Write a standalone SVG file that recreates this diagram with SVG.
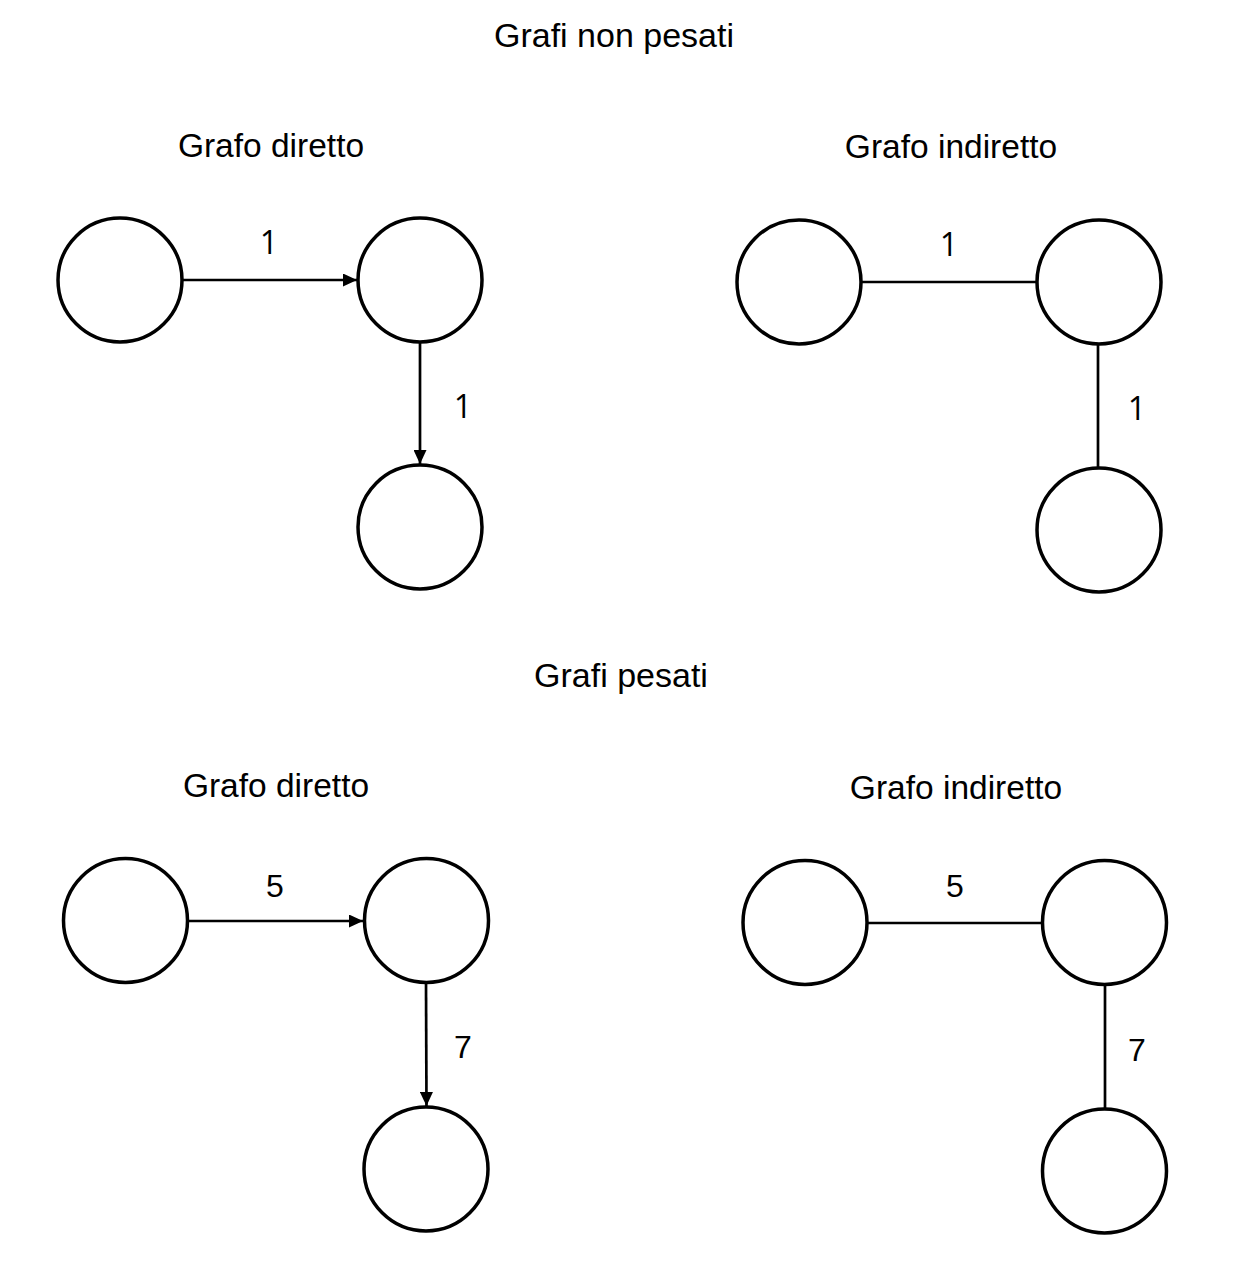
<svg xmlns="http://www.w3.org/2000/svg" width="1244" height="1274" viewBox="0 0 1244 1274">
<style>
.node{fill:#fff;stroke:#000;stroke-width:3.5}
.edge{stroke:#000;stroke-width:2.7;fill:none}
.title{font-family:"Liberation Sans",Arial,sans-serif;font-size:34px;fill:#000;text-anchor:middle}
.sub{font-family:"Liberation Sans",Arial,sans-serif;font-size:33.5px;fill:#000;text-anchor:middle}
.w1{font-family:"Open Sans","Noto Sans",sans-serif;font-size:32px;fill:#000;text-anchor:middle}
.w2{font-family:"Liberation Sans",Arial,sans-serif;font-size:32px;fill:#000;text-anchor:middle}
</style>
<defs>
<marker id="arr" viewBox="0 0 14 13" refX="14" refY="6.5" markerWidth="14" markerHeight="13" markerUnits="userSpaceOnUse" orient="auto">
<path d="M0,0 L14,6.5 L0,13 Z" fill="#000"/>
</marker>
</defs>
<rect width="1244" height="1274" fill="#fff"/>
<g id="titles">
<text class="title" x="614" y="47">Grafi non pesati</text>
<text class="sub" x="271" y="157">Grafo diretto</text>
<text class="sub" x="951" y="158">Grafo indiretto</text>
<text class="title" x="621" y="687">Grafi pesati</text>
<text class="sub" x="276" y="797">Grafo diretto</text>
<text class="sub" x="956" y="799">Grafo indiretto</text>
</g>
<g id="connectors">
<line class="edge" x1="182" y1="280" x2="357" y2="280" marker-end="url(#arr)"/>
<line class="edge" x1="420" y1="342" x2="420" y2="464" marker-end="url(#arr)"/>
<line class="edge" x1="861" y1="282" x2="1037" y2="282"/>
<line class="edge" x1="1098" y1="344" x2="1098" y2="468"/>
<line class="edge" x1="188" y1="921" x2="363" y2="921" marker-end="url(#arr)"/>
<line class="edge" x1="426" y1="983" x2="426.5" y2="1106" marker-end="url(#arr)"/>
<line class="edge" x1="867" y1="923" x2="1043" y2="923"/>
<line class="edge" x1="1105" y1="985" x2="1105" y2="1109"/>
<text class="w1" x="269" y="254">1</text>
<text class="w1" x="463" y="418">1</text>
<text class="w1" x="949" y="256">1</text>
<text class="w1" x="1137" y="420">1</text>
<text class="w2" x="275" y="897">5</text>
<text class="w2" x="463" y="1058">7</text>
<text class="w2" x="955" y="897">5</text>
<text class="w2" x="1137" y="1061">7</text>
</g>
<g id="n1"><circle class="node" cx="120" cy="280" r="62"/></g>
<g id="n2"><circle class="node" cx="420" cy="280" r="62"/></g>
<g id="n3"><circle class="node" cx="420" cy="527" r="62"/></g>
<g id="n4"><circle class="node" cx="799" cy="282" r="62"/></g>
<g id="n5"><circle class="node" cx="1099" cy="282" r="62"/></g>
<g id="n6"><circle class="node" cx="1099" cy="530" r="62"/></g>
<g id="n7"><circle class="node" cx="125.5" cy="920.5" r="62"/></g>
<g id="n8"><circle class="node" cx="426.5" cy="920.5" r="62"/></g>
<g id="n9"><circle class="node" cx="426" cy="1169" r="62"/></g>
<g id="n10"><circle class="node" cx="805" cy="922.5" r="62"/></g>
<g id="n11"><circle class="node" cx="1104.5" cy="922.5" r="62"/></g>
<g id="n12"><circle class="node" cx="1104.5" cy="1171" r="62"/></g>
</svg>
